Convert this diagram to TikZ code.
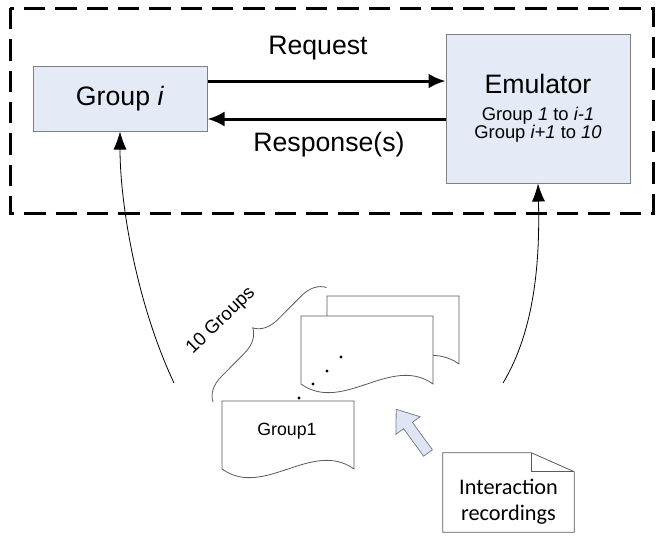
\documentclass[tikz,border=0pt]{standalone}
\usepackage{fontspec}
\setmainfont{Liberation Sans}
\newfontfamily\calibri{Carlito}
\usetikzlibrary{arrows.meta,decorations.pathreplacing}
\definecolor{boxblue}{RGB}{229,235,246}
\definecolor{boxline}{RGB}{128,128,128}
\definecolor{docgray}{RGB}{90,90,90}
\definecolor{arrowblue}{RGB}{222,230,245}

\begin{document}
\begin{tikzpicture}[x=0.75pt,y=-0.75pt,
  bluebox/.style={draw=boxline,fill=boxblue,line width=0.75pt,inner sep=0pt},
  bigfont/.style={font=\fontsize{20}{24}\selectfont},
  heavy/.style={line width=2.25pt,-{Latex[length=12.75pt,width=11.25pt]}},
  thinarrow/.style={line width=0.6pt,-{Latex[length=13.5pt,width=9.75pt]}},
  docline/.style={draw=docgray,fill=white,line width=0.6pt},
  docpage/.pic={\path[docline] (0,0) -- (132,0) -- (132,68) .. controls (90,38) and (42,98) .. (0,68) -- cycle;}]
\useasboundingbox (0,0) rectangle (664,539);

% frame
\draw[line width=2.25pt,dash pattern=on 16pt off 7.5pt] (10,8) rectangle (653,213);

\node[bluebox,bigfont,minimum width=130.5pt,minimum height=48.75pt] (gi) at (120,98.5) {Group \textit{i}};
\node[bluebox,align=center,font=\fontsize{13.8}{12}\selectfont,minimum width=138pt,minimum height=111.75pt] (emu) at (538,108.5)
  {{\fontsize{20}{24}\selectfont Emulator}\\[8pt]Group \textit{1} to \textit{i-1}\\Group \textit{i+1} to \textit{10}};

\coordinate (reqy) at (0,81);
\coordinate (respy) at (0,119);
\draw[heavy] (gi.east |- reqy) -- (emu.west |- reqy);
\draw[heavy] (emu.west |- respy) -- (gi.east |- respy);
\node[bigfont] (req) at (318,48) {Request};
\node[bigfont] (resp) at (329,145) {Response(s)};

% inputs
\coordinate (lfoot) at (174,383);
\coordinate (rfoot) at (503,383);
\draw[thinarrow] (lfoot) .. controls (135,300) and (120,200) .. (gi.south);
\draw[thinarrow] (rfoot) .. controls (535,330) and (540,260) .. (emu.south);

% group pages
\pic at (327,296) {docpage};
\pic at (301,316) {docpage};
\pic at (222,401) {docpage};
\node[font=\fontsize{13.3}{16}\selectfont] (g1) at (287,431) {Group1};
\foreach \px/\py in {341/357,327/371,313/384,299/398}
  \fill (\px,\py) circle (1.2pt);
\draw[docgray,line width=0.6pt,decorate,decoration={brace,amplitude=18pt}] (213,402) -- (327,287);
\node[rotate=44,font=\fontsize{14}{16}\selectfont] (ten) at (221,321) {10 Groups};

\draw[draw=boxline,fill=arrowblue,line width=0.6pt] (432.4,449.8) -- (412.4,422.3) -- (420.1,416.7) -- (396.2,409.3)
  -- (395.9,434.3) -- (403.6,428.7) -- (423.6,456.2) -- cycle;

\node[minimum width=98.25pt,minimum height=59.25pt,inner sep=0pt] (rec) at (508.5,492.5) {};
\draw[docline] (rec.north west) -- ([xshift=-32.25pt]rec.north east) -- ([yshift=-14.25pt]rec.north east)
  -- (rec.south east) -- (rec.south west) -- cycle;
\draw[docline,fill=none] ([xshift=-32.25pt]rec.north east) -- ++(0,19) -- ++(43,0);
\node[align=center,font=\calibri\fontsize{16.7}{19.5}\selectfont] (rectxt) at ([yshift=-7pt]rec.center) {Interaction\\recordings};
\end{tikzpicture}
\end{document}
